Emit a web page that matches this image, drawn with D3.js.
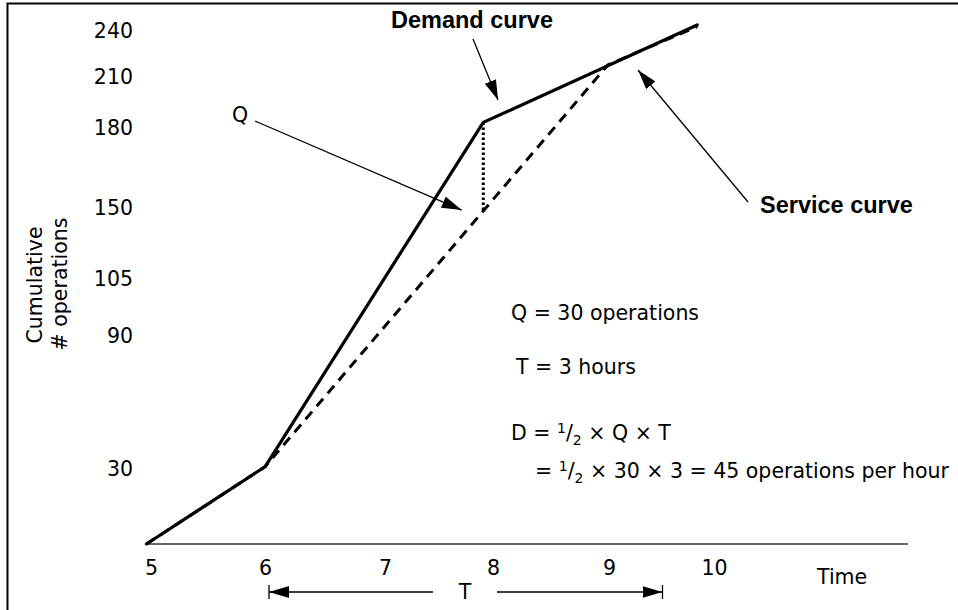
<!DOCTYPE html>
<html>
<head>
<meta charset="utf-8">
<script src="https://cdn.jsdelivr.net/npm/d3@7"></script>
<style>
  html, body { margin: 0; padding: 0; background: #fff; }
  svg { display: block; }
  .reg { font-family: "DejaVu Sans", sans-serif; font-size: 20.5px; fill: #000; }
  .bold { font-family: "Liberation Sans", Arial, sans-serif; font-weight: bold; font-size: 23.5px; fill: #000; }
</style>
</head>
<body>
<script>
// ---- data ----
const xTicks = [5, 6, 7, 8, 9, 10];
const yTicks = [30, 90, 105, 150, 180, 210, 240];
const demandX = [4.96, 6, 7.91, 9.84];
const demandY = [0, 31, 183, 243.6];
const serviceX = [4.96, 6, 8.99, 9.84];
const serviceY = [0, 31, 217.5, 242.6];
const qX = [7.91, 7.91];
const qY = [183, 147.5];

const W = 958, H = 610;
const svg = d3.select("body").append("svg").attr("width", W).attr("height", H);

// marker defs
const defs = svg.append("defs");
defs.append("marker").attr("id", "ah")
  .attr("markerUnits", "userSpaceOnUse")
  .attr("viewBox", "0 0 20 12").attr("refX", 20).attr("refY", 6)
  .attr("markerWidth", 20).attr("markerHeight", 12)
  .attr("orient", "auto")
  .append("path").attr("d", "M0,0 L20,6 L0,12 Z").attr("fill", "#000");

// frame
svg.append("path").attr("d", "M7.5,610 L7.5,3.5 L958,3.5")
  .attr("fill", "none").attr("stroke", "#000").attr("stroke-width", 2);

// piecewise scales (axis label positions are non-uniform in the original)
const x = d3.scaleLinear().domain(xTicks).range([151, 265, 385, 493, 609, 714]);
const y = d3.scaleLinear().domain([0].concat(yTicks)).range([544, 469, 335.5, 279, 208, 127.5, 76.5, 30.5]);

// x axis line
svg.append("line").attr("x1", x(4.965)).attr("x2", 908).attr("y1", y(0)).attr("y2", y(0))
  .attr("stroke", "#333").attr("stroke-width", 1.3);

const xAxis = svg.append("g").attr("transform", `translate(0,${y(0)})`)
  .call(d3.axisBottom(x).tickValues(xTicks).tickSize(0).tickPadding(16.5).tickFormat(d3.format("d")));
xAxis.select(".domain").remove();
xAxis.selectAll("text").attr("class", "reg").attr("font-size", null).attr("font-family", null);

const yAxis = svg.append("g").attr("transform", "translate(136,0)")
  .call(d3.axisLeft(y).tickValues(yTicks).tickSize(0).tickPadding(3).tickFormat(d3.format("d")));
yAxis.select(".domain").remove();
yAxis.selectAll("text").attr("class", "reg").attr("font-size", null).attr("font-family", null);

// axis titles
svg.append("text").attr("class", "reg").attr("text-anchor", "middle")
  .attr("transform", "translate(42,285) rotate(-90)").text("Cumulative");
svg.append("text").attr("class", "reg").attr("text-anchor", "middle")
  .attr("transform", "translate(67,284) rotate(-90)").text("# operations");
svg.append("text").attr("class", "reg").attr("x", 817).attr("y", 584).text("Time");

// curves
const line = d3.line().x(d => x(d[0])).y(d => y(d[1]));
svg.append("path").datum(d3.zip(serviceX, serviceY)).attr("d", line)
  .attr("fill", "none").attr("stroke", "#000").attr("stroke-width", 3)
  .attr("stroke-dasharray", "10,7").attr("stroke-linejoin", "round");
svg.append("path").datum(d3.zip(demandX, demandY)).attr("d", line)
  .attr("fill", "none").attr("stroke", "#000").attr("stroke-width", 3.2)
  .attr("stroke-linejoin", "round").attr("stroke-linecap", "round");
svg.append("path").datum(d3.zip(qX, qY)).attr("d", line)
  .attr("fill", "none").attr("stroke", "#000").attr("stroke-width", 3)
  .attr("stroke-dasharray", "2.5,2.5");

// annotation arrows
function arrow(x1, y1, x2, y2) {
  svg.append("line").attr("x1", x1).attr("y1", y1).attr("x2", x2).attr("y2", y2)
    .attr("stroke", "#000").attr("stroke-width", 1.3).attr("marker-end", "url(#ah)");
}
arrow(255, 121, x(7.71), y(148.7));
arrow(473, 39, 498, 100);
arrow(748, 202, 638, 70);
// T span arrows
arrow(433, 592, x(6) + 4, 592);
arrow(497, 592, x(9.5) + 1, 592);
svg.append("line").attr("x1", x(6) + 4).attr("x2", x(6) + 4).attr("y1", 585).attr("y2", 599)
  .attr("stroke", "#000").attr("stroke-width", 1.3);
svg.append("line").attr("x1", x(9.5) + 1).attr("x2", x(9.5) + 1).attr("y1", 585).attr("y2", 599)
  .attr("stroke", "#000").attr("stroke-width", 1.3);
svg.append("text").attr("class", "reg").attr("x", 465).attr("y", 599).attr("text-anchor", "middle").text("T");

// labels
svg.append("text").attr("class", "bold").attr("x", 391).attr("y", 28).text("Demand curve");
svg.append("text").attr("class", "bold").attr("x", 760).attr("y", 213).text("Service curve");
svg.append("text").attr("class", "reg").attr("x", 240).attr("y", 122).attr("text-anchor", "middle").text("Q");

svg.append("text").attr("class", "reg").attr("x", 511).attr("y", 320).text("Q = 30 operations");
svg.append("text").attr("class", "reg").attr("x", 516).attr("y", 374).text("T = 3 hours");

function half(t) {
  t.append("tspan").attr("font-size", 14).attr("dy", -7).text("1");
  t.append("tspan").attr("dy", 7).text("/");
  t.append("tspan").attr("font-size", 14).attr("dy", 5).text("2");
  return t;
}
const t1 = svg.append("text").attr("class", "reg").attr("x", 511).attr("y", 440);
t1.append("tspan").text("D = ");
half(t1);
t1.append("tspan").attr("dy", -5).text(" \u00D7 Q \u00D7 T");

const t2 = svg.append("text").attr("class", "reg").attr("x", 535).attr("y", 478);
t2.append("tspan").text("= ");
half(t2);
t2.append("tspan").attr("dy", -5).text(" \u00D7 30 \u00D7 3 = 45 operations per hour");
</script>
</body>
</html>
